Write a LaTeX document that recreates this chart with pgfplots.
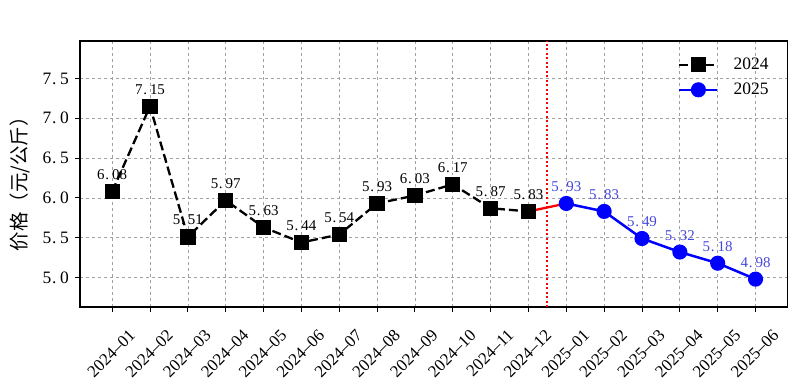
\documentclass[border=0pt]{standalone}
\usepackage{fontspec}
\setmainfont{Liberation Serif}
\usepackage{pgfplots}
\pgfplotsset{compat=1.18}
\newfontfamily\cjk{Noto Sans CJK SC}
\newcommand\pd{\makebox[0.5em][l]{\hspace{0.05em}.}}
\definecolor{gridgray}{RGB}{160,160,160}
\definecolor{lblblue}{RGB}{70,70,225}
\begin{document}
\begin{tikzpicture}
\useasboundingbox (-80bp,-85bp) rectangle (721bp,307bp);
\begin{axis}[
  scale only axis, width=707.7bp, height=266bp,
  xmin=-0.85, xmax=17.85, ymin=4.63, ymax=7.97,
  axis line style={line width=1.2bp},
  xtick={0,...,17},
  xticklabels={2024--01,2024--02,2024--03,2024--04,2024--05,2024--06,2024--07,2024--08,2024--09,2024--10,2024--11,2024--12,2025--01,2025--02,2025--03,2025--04,2025--05,2025--06},
  ytick={5,5.5,6,6.5,7,7.5},
  yticklabels={5\pd0,5\pd5,6\pd0,6\pd5,7\pd0,7\pd5},
  tick align=outside, major tick length=5bp,
  tick style={line width=1bp, black},
  xtick pos=bottom, ytick pos=left,
  grid=major,
  grid style={dashed, gridgray, line width=0.7bp},
  yticklabel style={font=\fontsize{17.5}{17.5}\selectfont, inner sep=0pt, anchor=east, xshift=-6bp},
  xticklabel style={font=\fontsize{17}{17}\selectfont, inner sep=0pt, xshift=16bp, yshift=-16bp, rotate=45, anchor=north east},
  ylabel={\cjk 价格（元/公斤）},
  every axis y label/.style={at={(axis description cs:-0.085,0.48)}, rotate=90, anchor=center, font=\fontsize{19.5}{19.5}\selectfont},
  legend style={at={(1,1)}, anchor=north east, xshift=-14bp, yshift=-13bp, draw=none, fill=none, font=\fontsize{17.5}{17.5}\selectfont, row sep=8bp},
  legend cell align=left,
  legend image code/.code={\draw[mark repeat=2,mark phase=2,#1] plot coordinates {(0bp,0bp) (19bp,0bp) (38bp,0bp)}; \path (51bp,0bp);},
  nodes near coords, point meta=explicit symbolic,
  every node near coord/.append style={font=\fontsize{15}{15}\selectfont, anchor=base, yshift=12bp},
]
\addplot[black, line width=2.3bp, dash pattern=on 9bp off 4bp, mark=square*, mark size=6.5bp, mark options={solid}, nodes near coords style={black}]
coordinates {
(0,6.08)[6\pd08] (1,7.15)[7\pd15] (2,5.51)[5\pd51] (3,5.97)[5\pd97] (4,5.63)[5\pd63] (5,5.44)[5\pd44]
(6,5.54)[5\pd54] (7,5.93)[5\pd93] (8,6.03)[6\pd03] (9,6.17)[6\pd17] (10,5.87)[5\pd87] (11,5.83)[5\pd83]
};
\addlegendentry{2024}
\addplot[red, line width=2.3bp, forget plot, nodes near coords={}] coordinates {(11,5.83) (12,5.93)};
\addplot[red, line width=1.8bp, dash pattern=on 2bp off 2.5bp, forget plot, nodes near coords={}] coordinates {(11.5,4.63) (11.5,7.97)};
\addplot[blue, line width=2.5bp, mark=*, mark size=6.3bp, nodes near coords style={lblblue}]
coordinates {
(12,5.93)[5\pd93] (13,5.83)[5\pd83] (14,5.49)[5\pd49] (15,5.32)[5\pd32] (16,5.18)[5\pd18] (17,4.98)[4\pd98]
};
\addlegendentry{2025}
\end{axis}
\end{tikzpicture}
\end{document}
